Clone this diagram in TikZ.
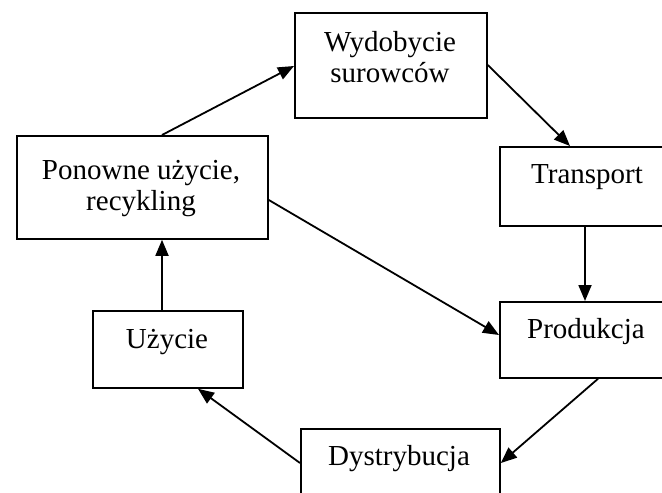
\documentclass[tikz,border=0pt]{standalone}
\usepackage{fontspec}
\setmainfont{Liberation Serif}
\usetikzlibrary{arrows.meta}
\begin{document}
\begin{tikzpicture}[x=1pt,y=-1pt,
  box/.style={draw, line width=1.8pt, anchor=north west, inner sep=0pt},
  lbl/.style={anchor=base, align=center, inner sep=0pt, font=\fontsize{29}{31}\selectfont},
  arr/.style={line width=1.8pt, -{Triangle[length=16pt,width=13pt]}}]
\useasboundingbox (0,0) rectangle (662,493);
\clip (0,0) rectangle (662,493);
\node[box, minimum width=192pt, minimum height=105pt] (W) at (294,12) {};
\node[box, minimum width=251pt, minimum height=103pt] (P) at (16,135) {};
\node[box, minimum width=180pt, minimum height=79pt] (T) at (499,146) {};
\node[box, minimum width=180pt, minimum height=76pt] (R) at (499,301) {};
\node[box, minimum width=199pt, minimum height=80pt] (D) at (300,428) {};
\node[box, minimum width=150pt, minimum height=77pt] (U) at (92,310) {};
\node[lbl] (Wt) at (390,82) {Wydobycie\\surowców};
\node[lbl] (Pt) at (141,210) {Ponowne użycie,\\recykling};
\node[lbl] (Tt) at (587,183) {Transport};
\node[lbl] (Rt) at (586,338) {Produkcja};
\node[lbl] (Dt) at (399,465) {Dystrybucja};
\node[lbl] (Ut) at (167,348) {Użycie};
\draw[arr] ([xshift=146pt]P.north west) -- ([yshift=-54pt]W.north west);
\draw[arr] ([yshift=-53pt]W.north east) -- ([xshift=71pt]T.north west);
\draw[arr] ([xshift=86pt]T.south west) -- ([xshift=86pt]R.north west);
\draw[arr] ([yshift=-65pt]P.north east) -- ([yshift=-34pt]R.north west);
\draw[arr] ([xshift=99pt]R.south west) -- ([yshift=-35pt]D.north east);
\draw[arr] ([yshift=-35pt]D.north west) -- ([xshift=106pt]U.south west);
\draw[arr] ([xshift=70pt]U.north west) -- ([xshift=146pt]P.south west);
\end{tikzpicture}
\end{document}
